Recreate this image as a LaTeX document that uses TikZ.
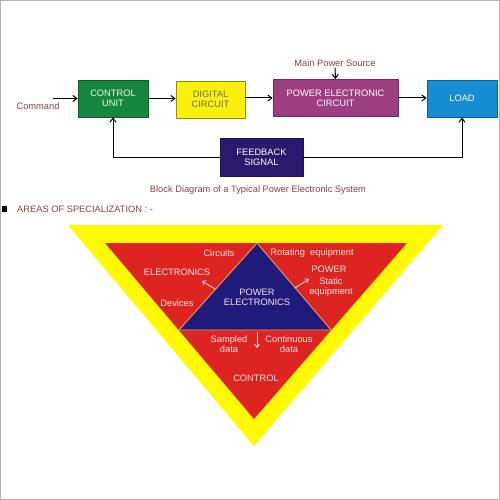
\documentclass[tikz,border=0pt]{standalone}
\usepackage{fontspec}
\setmainfont{Liberation Sans}
\usepackage{xcolor}
\definecolor{pegreen}{RGB}{24,135,62}
\definecolor{peyellow}{RGB}{250,240,10}
\definecolor{pepurple}{RGB}{158,62,130}
\definecolor{peblue}{RGB}{22,140,212}
\definecolor{penavy}{RGB}{42,26,110}
\definecolor{pemaroon}{RGB}{140,62,66}
\definecolor{pered}{RGB}{222,36,32}
\definecolor{pelemon}{RGB}{255,250,0}
\definecolor{peindigo}{RGB}{32,26,122}
\definecolor{peorange}{RGB}{240,170,95}
\definecolor{pepale}{RGB}{250,228,228}
\usetikzlibrary{arrows.meta, positioning}

\begin{document}
\begin{tikzpicture}[x=1pt, y=-1pt,
  blockbox/.style={draw, line width=0.8pt, minimum height=37pt, align=center,
                   inner sep=2pt, font=\fontsize{9.3}{10}\selectfont},
  flow/.style={line width=1pt, -{Straight Barb[length=4pt,width=6pt]}},
  areatext/.style={pepale, align=center, font=\fontsize{9.3}{10}\selectfont},
  areaarrow/.style={pepale, line width=0.8pt, -{Straight Barb[length=3pt,width=5pt]}}]

\useasboundingbox (0,0) rectangle (500,500);
\draw[gray!60, line width=1pt] (0.5,0.5) rectangle (499.5,499.5);

% === Block diagram ===
\node[blockbox, fill=pegreen, draw=pegreen!70!black, text=green!10!white,
      minimum width=70pt] (control) at (113,98.5) {CONTROL\\UNIT};
\node[blockbox, fill=peyellow, draw=peyellow!60!black, text=black!65!yellow,
      minimum width=69pt] (digital) at (210.5,99.5) {DIGITAL\\CIRCUIT};
\node[blockbox, fill=pepurple, draw=pepurple!70!black, text=white,
      minimum width=125pt] (pec) at (335.5,98) {POWER ELECTRONIC\\CIRCUIT};
\node[blockbox, fill=peblue, draw=peblue!70!black, text=white,
      minimum width=70pt] (load) at (462,98.5) {LOAD};
\node[blockbox, fill=penavy, draw=penavy!70!black, text=white,
      minimum width=83pt, minimum height=38pt] (feedback) at (261.5,157) {FEEDBACK\\SIGNAL};

\node[font=\fontsize{9.3}{10}\selectfont, pemaroon] (command) at (38,106) {Command};
\coordinate (cmdin) at (53,98.5);
\node[font=\fontsize{9.3}{10}\selectfont, pemaroon, inner sep=1pt] (source) at (335,63) {Main Power Source};

\draw[flow] (cmdin) -- (control.west);
\draw[flow] (control.east) -- (digital.west |- control.east);
\draw[flow] (digital.east |- pec.west) -- (pec.west);
\draw[flow] (pec.east) -- (load.west |- pec.east);
\draw[flow] (source.south) -- (pec.north);
\draw[flow] (feedback.west) -| (control.south);
\draw[flow] (feedback.east) -| (load.south);

\node[font=\fontsize{9.3}{10}\selectfont, pemaroon] (caption) at (258,190)
     {Block Diagram of a Typical Power Electronic System};

% === Areas of specialization ===
\fill[black] (2,206) rectangle (7,212);
\node[font=\fontsize{9.3}{10}\selectfont, pemaroon, anchor=west, inner sep=0pt] (areas) at (17,209.5)
     {AREAS OF SPECIALIZATION : -};

\fill[pelemon] (68,225) -- (443,225) -- (254,446) -- cycle;
\fill[pered] (105,243) -- (407,243) -- (254,419) -- cycle;
\filldraw[fill=peindigo, draw=peorange, line width=0.8pt] (257,243) -- (179,330) -- (331,330) -- cycle;

\node[areatext] (core) at (257,297.5) {POWER\\ELECTRONICS};
\node[areatext] (circuits) at (219,253) {Circuits};
\node[areatext] (rotating) at (312,253) {Rotating\ \ equipment};
\node[areatext] (electronics) at (177,272) {ELECTRONICS};
\node[areatext] (devices) at (177,303) {Devices};
\node[areatext] (power) at (329,269) {POWER};
\node[areatext] (static) at (331,287) {Static\\equipment};
\node[areatext] (sampled) at (229,344) {Sampled\\data};
\node[areatext] (continuous) at (289,344) {Continuous\\data};
\node[areatext] (controlarea) at (256,378) {CONTROL};

\coordinate (toelec) at (202,281);
\coordinate (fromleft) at (215,289);
\coordinate (topower) at (309,279);
\coordinate (fromright) at (295,288);
\coordinate (fromdown) at (257,332);
\coordinate (tocontrol) at (257,348);
\draw[areaarrow] (fromleft) -- (toelec);
\draw[areaarrow] (fromright) -- (topower);
\draw[areaarrow] (fromdown) -- (tocontrol);

\end{tikzpicture}
\end{document}
